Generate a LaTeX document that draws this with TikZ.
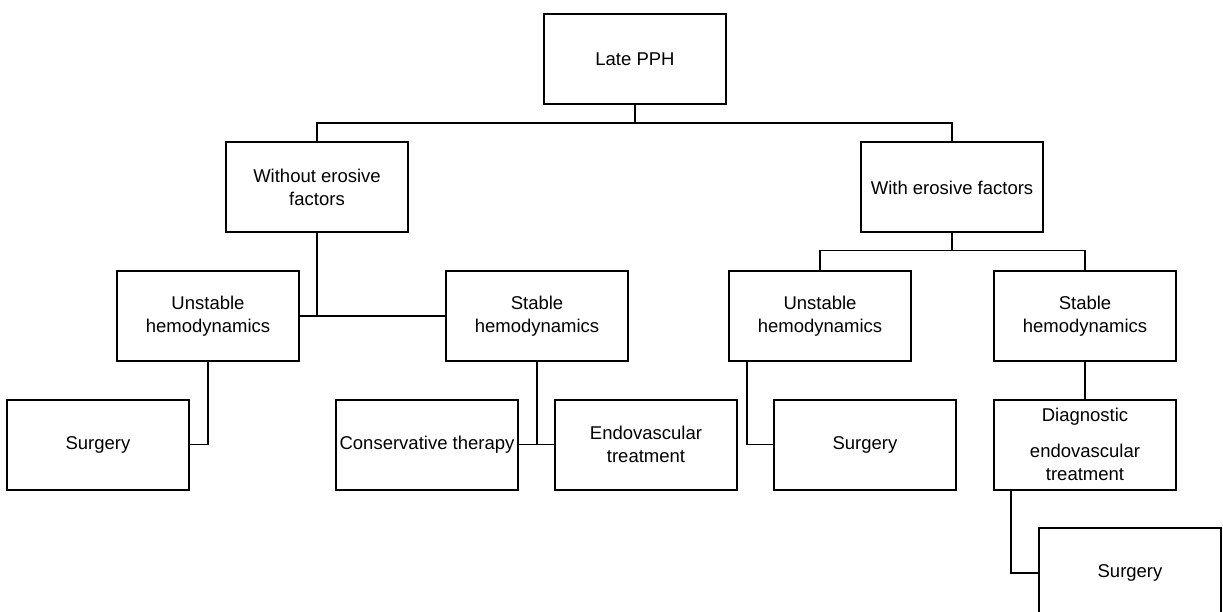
\documentclass[tikz,border=0pt]{standalone}
\usepackage{fontspec}
\setmainfont{Liberation Sans}
\usetikzlibrary{positioning}

\begin{document}
\begin{tikzpicture}[node distance=36.5pt, every node/.style={font=\fontsize{18.5}{23.5}\selectfont},
  box/.style={draw, line width=2pt, minimum width=182pt, minimum height=90pt, align=center, inner sep=1.5pt},
  link/.style={line width=1.5pt}]
\useasboundingbox (0,0) rectangle (1223pt,-612pt);
\node[box] (lpph) at (635pt,-59pt) {Late PPH};
\node[box, below=of lpph, xshift=-318pt] (wo) {Without erosive\\factors};
\node[box, below=of lpph, xshift=317pt] (wi) {With erosive factors};
\node[box, below=of wo, xshift=-109pt] (ul) {Unstable\\hemodynamics};
\node[box, below=of wo, xshift=220pt] (sl) {Stable\\hemodynamics};
\node[box, below=of wi, xshift=-132pt] (ur) {Unstable\\hemodynamics};
\node[box, below=of wi, xshift=133pt] (sr) {Stable\\hemodynamics};
\node[box, below=of ul, xshift=-110pt] (surgl) {Surgery};
\node[box, below=of sl, xshift=-110pt] (cons) {Conservative therapy};
\node[box, below=of sl, xshift=109pt] (endo) {Endovascular\\treatment};
\node[box, below=of ur, xshift=45pt] (surgr) {Surgery};
\node[box, below=of sr] (diag) {Diagnostic\\[12pt]endovascular\\treatment};
\node[box, below=of diag, xshift=45pt] (surgd) {Surgery};
% tree links
\draw[link] (lpph.south) -- ++(0,-18pt) coordinate (j1) -| (wo.north);
\draw[link] (j1) -| (wi.north);
\draw[link] (wo.south) |- (ul.east);
\draw[link] (wo.south) |- (sl.west);
\draw[link] (wi.south) -- ++(0,-17pt) coordinate (j2) -| (ur.north);
\draw[link] (j2) -| (sr.north);
\draw[link] (ul.south) |- (surgl.east);
\draw[link] (sl.south) |- (cons.east);
\draw[link] (sl.south) |- (endo.west);
\draw[link] ([xshift=19pt]ur.south west) |- (surgr.west);
\draw[link] (sr.south) -- (diag.north);
\draw[link] ([xshift=18pt]diag.south west) |- (surgd.west);
\end{tikzpicture}
\end{document}
